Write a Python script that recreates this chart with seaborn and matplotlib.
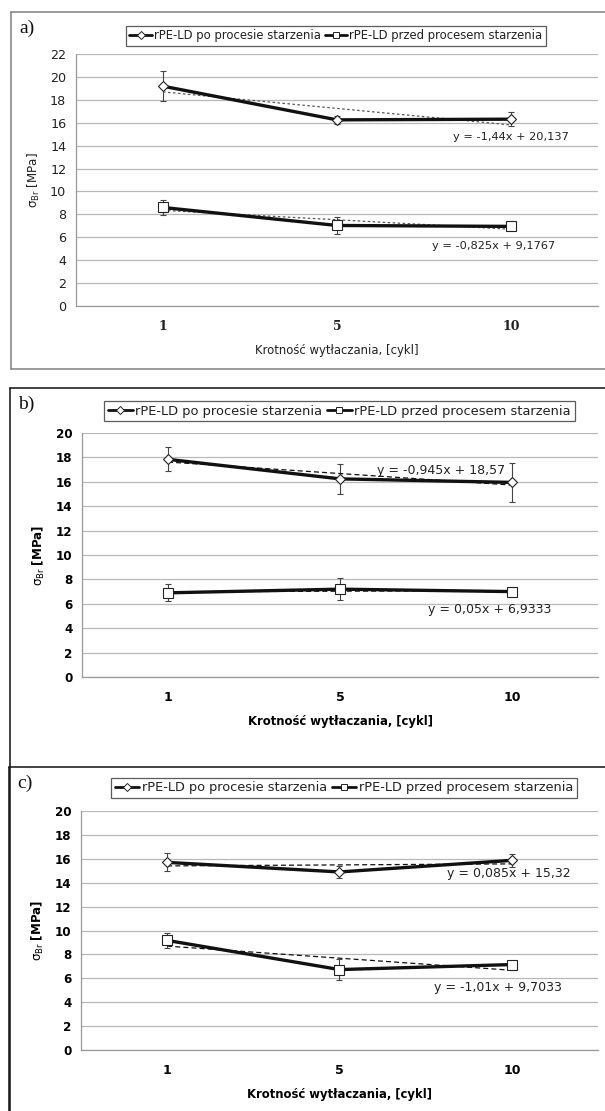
import numpy as np
import pandas as pd
import matplotlib
matplotlib.use("Agg")
import matplotlib.pyplot as plt
import seaborn as sns
from matplotlib.lines import Line2D

sns.set_style("white")
plt.rcParams["font.family"] = ["DejaVu Sans"]
plt.rcParams["mathtext.fontset"] = "dejavusans"

# data
cycles = ["1", "5", "10"]
series = ["rPE-LD po procesie starzenia", "rPE-LD przed procesem starzenia"]

a_after = [19.19, 16.25, 16.31]
a_after_err = [1.3, 0.35, 0.6]
a_before = [8.6, 7.03, 6.95]
a_before_err = [0.65, 0.75, 0.3]

b_after = [17.84, 16.24, 15.95]
b_after_err = [0.98, 1.2, 1.6]
b_before = [6.9, 7.2, 7.0]
b_before_err = [0.7, 0.88, 0.3]

c_after = [15.7, 14.9, 15.87]
c_after_err = [0.75, 0.5, 0.55]
c_before = [9.17, 6.73, 7.15]
c_before_err = [0.65, 0.85, 0.1]

eq_a = ["y = -1,44x + 20,137", "y = -0,825x + 9,1767"]
eq_b = ["y = -0,945x + 18,57", "y = 0,05x + 6,9333"]
eq_c = ["y = 0,085x + 15,32", "y = -1,01x + 9,7033"]

W, H = 605, 1111


def fx(x):
    return x / W


def fy(y):
    return 1 - y / H


panels = [
    dict(tag="a)", after=a_after, after_err=a_after_err, before=a_before,
         before_err=a_before_err, eqs=eq_a, ymax=22,
         rect=(76, 54, 598, 306), eq_pos=[(3.0, 14.75), (2.9, 5.25)],
         legend=(336, 36, 8.4), frame=(11, 12, 369), bold=False,
         fc="#808080", tc="#222222", trend_ls=(0, (2, 2)), trend_c="#555555",
         xt_font="DejaVu Serif", eq_size=8.2),
    dict(tag="b)", after=b_after, after_err=b_after_err, before=b_before,
         before_err=b_before_err, eqs=eq_b, ymax=20,
         rect=(82, 433, 598, 677), eq_pos=[(2.59, 16.9), (2.87, 5.5)],
         legend=(339.5, 411, 9.4), frame=(10, 388, 1111), bold=True,
         fc="#111111", tc="#000000", trend_ls=(0, (4, 2.5)), trend_c="#111111",
         xt_font="DejaVu Sans", eq_size=9),
    dict(tag="c)", after=c_after, after_err=c_after_err, before=c_before,
         before_err=c_before_err, eqs=eq_c, ymax=20,
         rect=(81, 811, 598, 1050), eq_pos=[(2.98, 14.75), (2.92, 5.2)],
         legend=(344, 788, 9.3), frame=(9, 767, 1111), bold=True,
         fc="#111111", tc="#000000", trend_ls=(0, (4, 2.5)), trend_c="#111111",
         xt_font="DejaVu Sans", eq_size=9),
]

fig = plt.figure(figsize=(W / 100, H / 100), dpi=100)
pos = np.arange(1, len(cycles) + 1)

for i, p in enumerate(panels):
    x0, y0, x1, y1 = p["rect"]
    ax = fig.add_axes([fx(x0), fy(y1), (x1 - x0) / W, (y1 - y0) / H])
    weight = "bold" if p["bold"] else "normal"

    for vals, errs, mk, ms in [(p["after"], p["after_err"], "D", 5.5),
                               (p["before"], p["before_err"], "s", 7)]:
        df = pd.DataFrame({"pos": pos, "val": vals})
        ax.errorbar(pos, vals, yerr=errs, fmt="none", ecolor="#444444",
                    elinewidth=0.8, capsize=2.5, capthick=0.8, zorder=2)
        sns.regplot(data=df, x="pos", y="val", scatter=False, ci=None, ax=ax,
                    line_kws=dict(color=p["trend_c"], lw=0.9,
                                  ls=p["trend_ls"], zorder=3))
        sns.lineplot(data=df, x="pos", y="val", ax=ax, color="#111111",
                     lw=2.4, marker=mk, markersize=ms, markerfacecolor="white",
                     markeredgecolor="#222222", markeredgewidth=0.8, zorder=4)

    for (ex, ey), txt in zip(p["eq_pos"], p["eqs"]):
        ax.text(ex, ey, txt, ha="center", va="center", fontsize=p["eq_size"],
                color="#222222", zorder=5)

    ax.set_xlim(0.5, 3.5)
    ax.set_ylim(0, p["ymax"])
    ax.set_yticks(np.arange(0, p["ymax"] + 1, 2))
    ax.set_xticks(pos)
    ax.set_xticklabels(cycles, fontfamily=p["xt_font"], fontweight="bold",
                       fontsize=9, color=p["tc"])
    ax.set_xticks([0.5, 1.5, 2.5, 3.5], minor=True)
    ax.tick_params(axis="x", which="major", length=0, pad=10)
    ax.tick_params(axis="x", which="minor", length=4, width=0.8,
                   color="#999999", direction="out")
    ax.tick_params(axis="y", length=4, width=0.8, color="#999999",
                   direction="out", pad=3)
    for lab in ax.get_yticklabels():
        lab.set_fontweight(weight)
        lab.set_fontsize(8.6 if p["bold"] else 9.2)
        lab.set_color(p["tc"])
    ax.yaxis.grid(True, color="#b8b8b8", lw=0.9)
    ax.xaxis.grid(False)
    ax.set_axisbelow(True)
    for s in ["top", "right"]:
        ax.spines[s].set_visible(False)
    for s in ["left", "bottom"]:
        ax.spines[s].set_color("#999999")
        ax.spines[s].set_linewidth(0.9)

    ax.set_xlabel("Krotność wytłaczania, [cykl]", fontsize=8.4,
                  fontweight=weight, color=p["tc"], labelpad=8)
    if p["bold"]:
        ylab = r"$\mathregular{\sigma_{Br}}$ $\mathbf{[MPa]}$"
    else:
        ylab = r"$\mathregular{\sigma_{Br}}$ [MPa]"
    ax.set_ylabel(ylab, fontsize=8.6, color=p["tc"], labelpad=6)

    # legend
    lx, ly, lfs = p["legend"]
    handles = [
        Line2D([], [], color="#111111", lw=2, marker="D", markersize=4,
               markerfacecolor="white", markeredgecolor="#222222", markeredgewidth=0.7),
        Line2D([], [], color="#111111", lw=2, marker="s", markersize=5,
               markerfacecolor="white", markeredgecolor="#222222", markeredgewidth=0.7),
    ]
    leg = fig.legend(handles, series, loc="center", bbox_to_anchor=(fx(lx), fy(ly)),
                     ncol=2, fontsize=lfs, frameon=True, fancybox=False,
                     handlelength=1.9, handletextpad=0.2, columnspacing=0.35,
                     borderpad=0.3, borderaxespad=0)
    leg.get_frame().set_edgecolor("#333333")
    leg.get_frame().set_linewidth(0.9)
    for t in leg.get_texts():
        t.set_color("#222222")

    # panel frame and tag
    fxl, ftop, fbot = p["frame"]
    fig.add_artist(Line2D([fx(fxl), fx(fxl)], [fy(ftop), fy(fbot)],
                          transform=fig.transFigure, color=p["fc"], lw=1.1))
    fig.add_artist(Line2D([fx(fxl), 1.0], [fy(ftop), fy(ftop)],
                          transform=fig.transFigure, color=p["fc"], lw=1.1))
    if i == 0:
        fig.add_artist(Line2D([fx(fxl), 1.0], [fy(fbot), fy(fbot)],
                              transform=fig.transFigure, color=p["fc"], lw=1.1))
    fig.text(fx(fxl + 8), fy(ftop + 16), p["tag"], fontsize=14,
             fontfamily="Liberation Serif", va="center", ha="left", color="#111111")

fig.savefig("out.png", dpi=100)
